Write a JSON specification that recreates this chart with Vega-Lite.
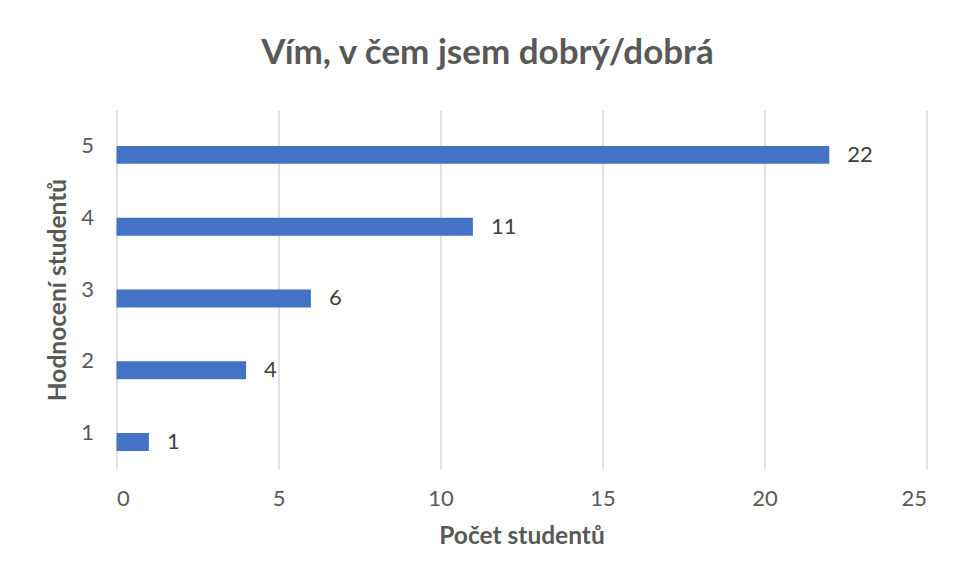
{
  "$schema": "https://vega.github.io/schema/vega-lite/v6.json",
  "width": 810,
  "height": 359,
  "autosize": {"type": "none"},
  "padding": {"left": 116.5, "top": 110, "right": 29.5, "bottom": 111},
  "background": "white",
  "config": {
    "font": "Lato",
    "view": {"stroke": null},
    "axis": {"labelColor": "#595959", "titleColor": "#595959", "labelFont": "Lato", "titleFont": "Lato"}
  },
  "title": {
    "text": "Vím, v čem jsem dobrý/dobrá",
    "font": "Lato",
    "fontSize": 35,
    "fontWeight": "bold",
    "color": "#595959",
    "anchor": "middle",
    "dx": -34,
    "offset": 11,
    "baseline": "alphabetic"
  },
  "data": {
    "values": [
      {"hodnoceni": "5", "pocet": 22, "serie": "b"},
      {"hodnoceni": "4", "pocet": 11, "serie": "b"},
      {"hodnoceni": "3", "pocet": 6, "serie": "b"},
      {"hodnoceni": "2", "pocet": 4, "serie": "b"},
      {"hodnoceni": "1", "pocet": 1, "serie": "b"}
    ]
  },
  "encoding": {
    "y": {
      "field": "hodnoceni",
      "type": "nominal",
      "sort": ["5", "4", "3", "2", "1"],
      "scale": {"paddingInner": 0.5, "paddingOuter": 0.25},
      "axis": {
        "title": "Hodnocení studentů",
        "titleFontSize": 24.5,
        "titleFontWeight": "bold",
        "titlePadding": 10,
        "labelFontSize": 22,
        "labelPadding": 23,
        "labelAngle": 0,
        "ticks": false,
        "domain": false
      }
    },
    "yOffset": {
      "field": "serie",
      "type": "nominal",
      "scale": {"domain": ["a", "b"], "paddingInner": 0, "paddingOuter": 0}
    },
    "x": {
      "field": "pocet",
      "type": "quantitative",
      "scale": {"domain": [0, 25], "nice": false},
      "axis": {
        "title": "Počet studentů",
        "titleFontSize": 24.5,
        "titleFontWeight": "bold",
        "titlePadding": 15,
        "labelFontSize": 22,
        "labelPadding": 19,
        "values": [0, 5, 10, 15, 20, 25],
        "grid": true,
        "gridColor": "#d9d9d9",
        "gridWidth": 1.5,
        "ticks": false,
        "domain": false
      }
    }
  },
  "layer": [
    {"mark": {"type": "bar", "color": "#4472c4"}},
    {
      "mark": {"type": "text", "align": "left", "baseline": "middle", "dx": 18, "fontSize": 22, "color": "#404040", "font": "Lato"},
      "encoding": {"text": {"field": "pocet", "type": "quantitative"}}
    }
  ]
}
